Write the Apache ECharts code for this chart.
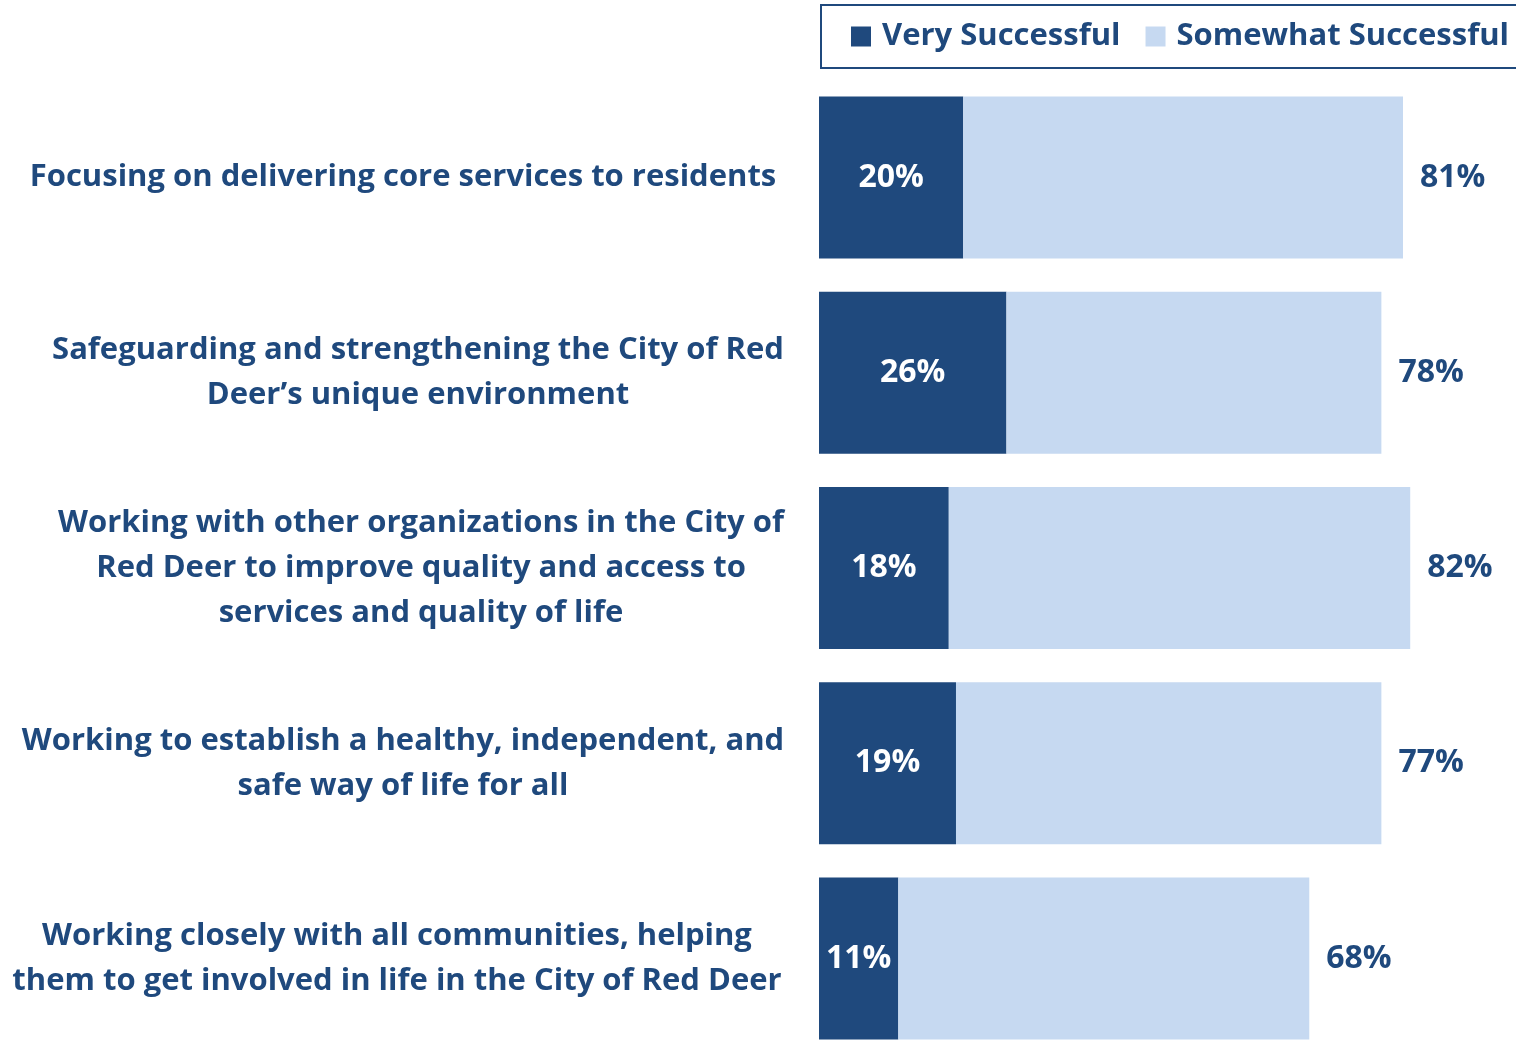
<!DOCTYPE html>
<html>
<head>
<meta charset="utf-8">
<script src="https://cdn.jsdelivr.net/npm/echarts@6/dist/echarts.min.js"></script>
<style>
  html, body { margin: 0; padding: 0; background: #fff; width: 1516px; height: 1040px; overflow: hidden; }
  #chart { width: 1560px; height: 1080px; }
</style>
</head>
<body>
<div id="chart"></div>
<script>
const categories = [
  "Focusing on delivering core services to residents",
  "Safeguarding and strengthening the City of Red\nDeer\u2019s unique environment",
  "Working with other organizations in the City of\nRed Deer to improve quality and access to\nservices and quality of life",
  "Working to establish a healthy, independent, and\nsafe way of life for all",
  "Working closely with all communities, helping\nthem to get involved in life in the City of Red Deer"
];
const verySuccessful = [20, 26, 18, 19, 11];
const somewhatSuccessful = [61, 52, 64, 59, 57];
const totalLabels = [81, 78, 82, 77, 68];

const dark = "#1F497D";
const light = "#C6D9F1";
const font = "Open Sans";

// horizontal nudge of each category label (px, + = right)
const labelShift = [-6, 9, 12, -6, -12];

const chart = echarts.init(document.getElementById("chart"));
chart.setOption({
  animation: false,
  textStyle: { fontFamily: font },
  legend: {
    left: 821,
    top: 5,
    padding: [16, 40, 16, 30],
    borderColor: dark,
    borderWidth: 2,
    itemWidth: 20,
    itemHeight: 20,
    itemGap: 25,
    icon: "rect",
    textStyle: { color: dark, fontSize: 31, fontWeight: "bold", fontFamily: font, padding: [4, 0, 0, 6] },
    data: ["Very Successful", "Somewhat Successful"]
  },
  grid: { left: 819, top: 80, width: 721, height: 976, outerBoundsMode: "none" },
  xAxis: {
    type: "value",
    min: 0,
    max: 100,
    show: false
  },
  yAxis: {
    type: "category",
    inverse: true,
    data: categories.map((c, i) => ({
      value: c,
      textStyle: {
        align: "center",
        color: dark,
        fontSize: 31,
        fontWeight: "bold",
        fontFamily: font,
        lineHeight: 45,
        padding: labelShift[i] > 0 ? [6, 0, 0, labelShift[i] * 2] : [6, -labelShift[i] * 2, 0, 0]
      }
    })),
    axisLine: { show: false },
    axisTick: { show: false },
    axisLabel: {
      align: "center",
      margin: 410,
      color: dark,
      fontSize: 31,
      fontWeight: "bold",
      fontFamily: font,
      lineHeight: 45
    }
  },
  series: [
    {
      name: "Very Successful",
      type: "bar",
      stack: "total",
      barWidth: 162,
      itemStyle: { color: dark },
      label: {
        show: true,
        position: "inside",
        color: "#fff",
        fontSize: 32,
        fontWeight: "bold",
        fontFamily: font,
        overflow: "none",
        padding: [8, 0, 0, 0],
        formatter: "{c}%"
      },
      data: verySuccessful
    },
    {
      name: "Somewhat Successful",
      type: "bar",
      stack: "total",
      barWidth: 162,
      itemStyle: { color: light },
      label: {
        show: true,
        position: "right",
        distance: 17,
        color: dark,
        fontSize: 32,
        fontWeight: "bold",
        fontFamily: font,
        padding: [8, 0, 0, 0],
        formatter: p => totalLabels[p.dataIndex] + "%"
      },
      data: somewhatSuccessful
    }
  ]
});
</script>
</body>
</html>
